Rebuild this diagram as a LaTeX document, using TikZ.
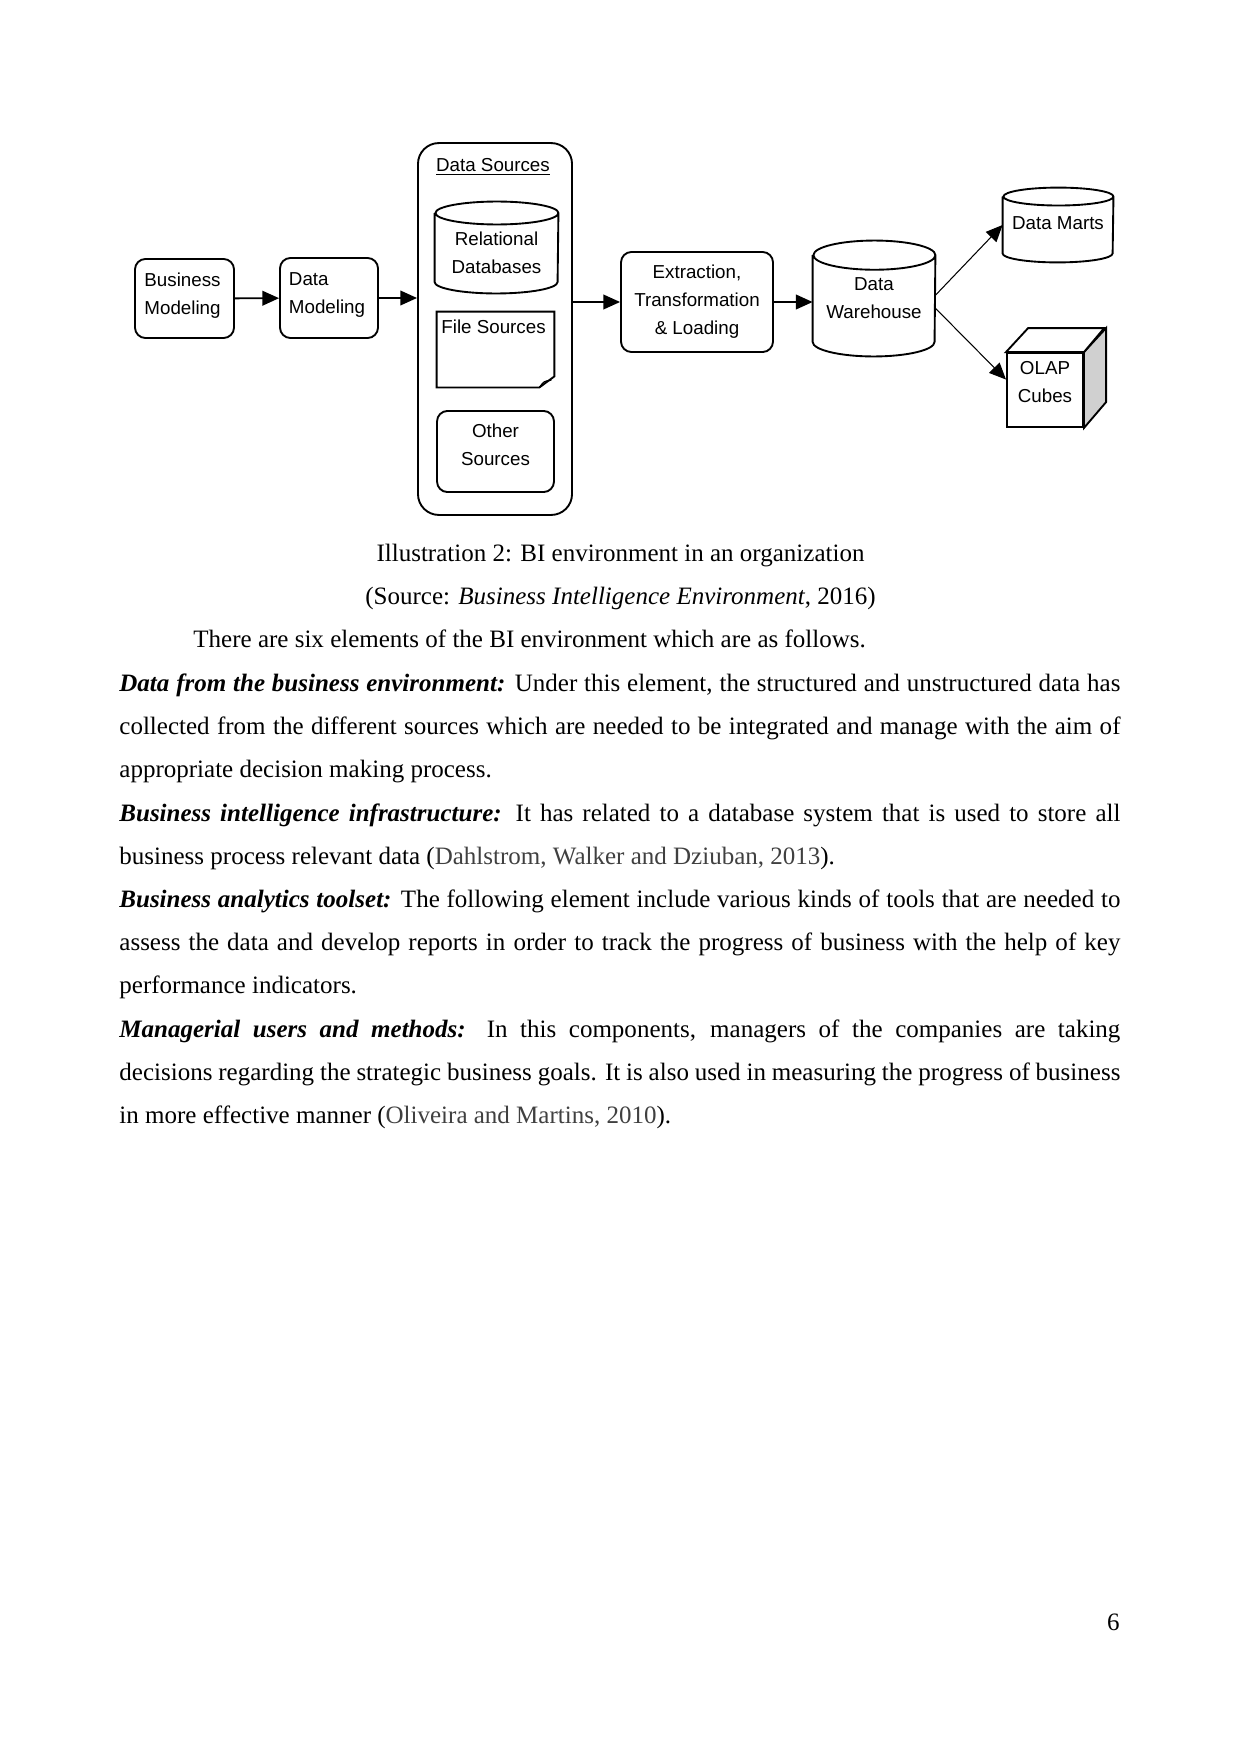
\documentclass[tikz,border=0pt]{standalone}
\usepackage{fontspec}
\setmainfont{Liberation Serif}
\setsansfont{Liberation Sans}
\usepackage{xcolor}
\usetikzlibrary{positioning,arrows.meta,calc}
\definecolor{sideclr}{RGB}{208,208,208}
\definecolor{citeclr}{RGB}{64,64,64}
\tikzset{
    lbl/.style={font=\sffamily\fontsize{9}{13.4}\selectfont,inner sep=0pt},
    blk/.style={lbl,rectangle,draw,line width=0.9pt,rounded corners=5pt,align=center},
    lblk/.style={blk,align=left,text width=38.4pt,text depth=17.8pt},
    dbase/.style={lbl,rectangle,align=center},
    cylline/.style={line width=0.9pt},
    flow/.style={-{Triangle[length=8pt,width=7pt]},line width=0.9pt},
    thinflow/.style={-{Triangle[length=8pt,width=7pt]},line width=0.5pt},
    body/.style={inner sep=0pt,font=\fontsize{12}{20.7}\selectfont},
    para/.style={body,anchor=north west,text width=480.2pt,align=justify},
}
% outline of a standing cylinder round a node: name, x radius, y radius
\newcommand\cylout[3]{%
  \draw[cylline] ($(#1.north west)+(0,-#3)$) -- ($(#1.south west)+(0,#3)$)
    arc[start angle=180,end angle=360,x radius=#2,y radius=#3]
    -- ($(#1.north east)+(0,-#3)$)
    arc[start angle=0,end angle=180,x radius=#2,y radius=#3]
    arc[start angle=180,end angle=360,x radius=#2,y radius=#3];
}
\begin{document}
\begin{tikzpicture}[x=0.4797pt,y=-0.4797pt]
\useasboundingbox[fill=white] (0,0) rectangle (1241,1754);

% diagram
\node[lblk,minimum width=47.5pt,minimum height=37.9pt] (bmod) at (184.5,298.5) {Business\\Modeling};
\node[lblk,minimum width=47pt,minimum height=38.4pt] (dmod) at (329,298) {Data\\Modeling};
\node[blk,rounded corners=10pt,minimum width=73.9pt,minimum height=178.4pt] (dsrc) at (495,329) {};
\node[lbl] (dsrctitle) at (493,167) {\underline{Data Sources}};
\node[dbase,text height=25.2pt,minimum width=59pt,minimum height=43.7pt] (reldb) at (496.5,247.5) {Relational\\Databases};
\cylout{reldb}{29.5pt}{5.5pt}
\node[lbl,minimum width=56.1pt,minimum height=36pt] (fsrc) at (495.5,349.5) {};
\node[lbl,anchor=west] (fsrctitle) at (441,327) {File Sources};
\draw[cylline] (fsrc.north west) -- (fsrc.north east) -- ($(fsrc.south east)+(0,5.3pt)$)
  -- ($(fsrc.south east)+(-7.2pt,0)$) -- (fsrc.south west) -- cycle;
\draw[line width=0.6pt] ($(fsrc.south east)+(-7.2pt,0)$) .. controls ($(fsrc.south east)+(-5pt,3pt)$) .. ($(fsrc.south east)+(-1.5pt,3.5pt)$);
\node[blk,text depth=6.4pt,minimum width=56.1pt,minimum height=38.9pt] (osrc) at (495.5,451.5) {Other\\Sources};
\node[blk,minimum width=72.9pt,minimum height=48pt] (etl) at (697,302) {Extraction,\\Transformation\\\& Loading};
\node[dbase,minimum width=58.5pt,minimum height=55.2pt] (dwh) at (874,298.5) {Data\\Warehouse};
\cylout{dwh}{29.25pt}{7pt}
\node[dbase,text depth=2.2pt,minimum width=52.8pt,minimum height=35.5pt] (dmart) at (1058,225) {Data Marts};
\cylout{dmart}{26.4pt}{4.3pt}
\node[lbl,draw,line width=0.9pt,align=center,text depth=7.4pt,minimum width=36.5pt,minimum height=35.5pt] (olap) at (1045,390) {OLAP\\Cubes};
\draw[cylline,fill=sideclr] (olap.north east) -- ++(10.6pt,11.5pt) -- ++(0,-35.5pt) -- (olap.south east) -- cycle;
\draw[cylline,fill=white] (olap.north west) -- ++(10.6pt,11.5pt) -- ++(36.5pt,0) -- (olap.north east) -- cycle;

\draw[flow] (bmod) -- (dmod);
\draw[flow] (dmod.east) -- (dmod.east -| dsrc.west);
\draw[flow] (dsrc.east |- etl.west) -- (etl.west);
\draw[flow] (etl.east) -- (etl.east -| dwh.west);
\draw[thinflow] (dwh.3) -- (dmart.west);
\draw[thinflow] (dwh.-9) -- (olap.165);

% caption and text
\node[body,anchor=base] (capa) at (620.5,561.5) {Illustration 2: BI environment in an organization};
\node[body,anchor=base] (capb) at (620.5,604.7) {(Source: \textit{Business Intelligence Environment}, 2016)};
\node[body,anchor=base west] (intro) at (193,647.9) {There are six elements of the BI environment which are as follows.};
\node[para] (pdata) at (119,660.9) {\strut\textbf{\textit{Data from the business environment:}} Under this element, the structured and unstructured data has\linebreak collected from the different sources which are needed to be integrated and manage with the aim of\linebreak appropriate decision making process.};
\node[para] (pinfra) at (119,790.5) {\strut\textbf{\textit{Business intelligence infrastructure:}} It has related to a database system that is used to store all\linebreak business process relevant data (\textcolor{citeclr}{Dahlstrom, Walker and Dziuban, 2013}).};
\node[para] (ptool) at (119,876.9) {\strut\textbf{\textit{Business analytics toolset:}} The following element include various kinds of tools that are needed to\linebreak assess the data and develop reports in order to track the progress of business with the help of key\linebreak performance indicators.};
\node[para] (pmgr) at (119,1006.5) {\strut\textbf{\textit{Managerial users and methods:}} In this components, managers of the companies are taking\linebreak decisions regarding the strategic business goals. It is also used in measuring the progress of business\linebreak in more effective manner (\textcolor{citeclr}{Oliveira and Martins, 2010}).};
\node[body,anchor=base east] (pgno) at (1120,1630) {6};
\end{tikzpicture}
\end{document}
